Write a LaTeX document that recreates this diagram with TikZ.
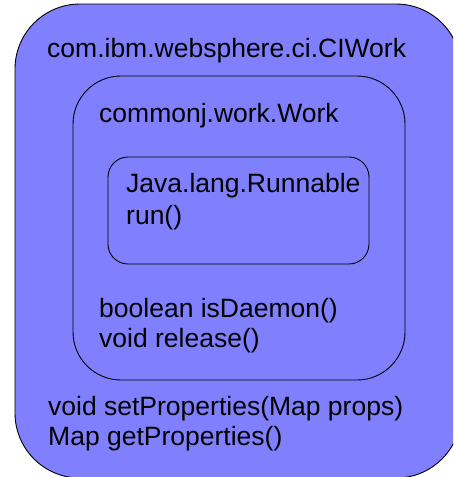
\documentclass[tikz,border=0pt]{standalone}
\usepackage{fontspec}
\setmainfont{Liberation Sans}
\definecolor{boxblue}{RGB}{128,128,255}
\begin{document}
\begin{tikzpicture}[x=1pt,y=-1pt,
  box/.style={draw=black,line width=0.9pt,fill=boxblue},
  label/.style={anchor=base west,inner sep=0pt,font=\fontsize{26.5}{30}\selectfont}]
\useasboundingbox (0,0) rectangle (453,477);
\clip (0,0) rectangle (453,477);
% outer class
\draw[box,rounded corners=65pt] (15,4) rectangle (461,478);
% commonj.work.Work
\draw[box,rounded corners=48pt] (73,76) rectangle (405,380);
% Runnable
\draw[box,rounded corners=20pt] (108,157) rectangle (369,264);
\node[label] (ciwork) at (47,57) {com.ibm.websphere.ci.CIWork};
\node[label] (work) at (99,122) {commonj.work.Work};
\node[label] (runnable) at (126,192) {Java.lang.Runnable};
\node[label] (run) at (126,224) {run()};
\node[label] (daemon) at (99,317) {boolean isDaemon()};
\node[label] (release) at (99,347) {void release()};
\node[label] (setprops) at (48,415) {void setProperties(Map props)};
\node[label] (getprops) at (48,445) {Map getProperties()};
\end{tikzpicture}
\end{document}
